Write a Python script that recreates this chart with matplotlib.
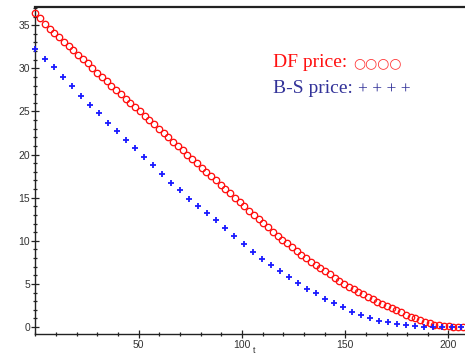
import matplotlib
matplotlib.use("Agg")
import matplotlib.pyplot as plt
from matplotlib.ticker import MultipleLocator

# DF price (red circles)
df_t = [0.0, 2.3, 4.6, 6.9, 9.2, 11.5, 13.8, 16.1, 18.4, 20.7,
        23.0, 25.3, 27.6, 29.9, 32.2, 34.5, 36.8, 39.1, 41.4, 43.7,
        46.0, 48.3, 50.6, 52.9, 55.2, 57.5, 59.8, 62.1, 64.4, 66.7,
        69.0, 71.3, 73.6, 75.9, 78.2, 80.5, 82.8, 85.1, 87.4, 89.7,
        92.0, 94.3, 96.6, 98.9, 101.2, 103.5, 105.8, 108.1, 110.4, 112.7,
        115.0, 117.3, 119.6, 121.9, 124.2, 126.5, 128.8, 131.1, 133.4, 135.7,
        138.0, 140.3, 142.6, 144.9, 147.2, 149.5, 151.8, 154.1, 156.4, 158.7,
        161.0, 163.3, 165.6, 167.9, 170.2, 172.5, 174.8, 177.1, 179.4, 181.7,
        184.0, 186.3, 188.6, 190.9, 193.2, 195.5, 197.8, 200.1, 202.4, 204.7,
        207.0]
df_price = [36.4, 35.8, 35.2, 34.6, 34.1, 33.6, 33.1, 32.6, 32.1, 31.6,
            31.1, 30.6, 30.0, 29.5, 29.0, 28.5, 28.0, 27.5, 27.0, 26.5,
            26.0, 25.5, 25.0, 24.5, 24.0, 23.5, 23.0, 22.5, 22.0, 21.5,
            21.0, 20.5, 20.0, 19.5, 19.0, 18.5, 18.0, 17.5, 17.0, 16.5,
            16.0, 15.5, 15.0, 14.5, 14.0, 13.5, 13.0, 12.5, 12.05, 11.55,
            11.05, 10.6, 10.15, 9.7, 9.25, 8.8, 8.4, 8.0, 7.6, 7.2,
            6.8, 6.45, 6.1, 5.75, 5.4, 5.05, 4.7, 4.4, 4.1, 3.8,
            3.5, 3.25, 2.95, 2.7, 2.45, 2.2, 1.95, 1.7, 1.45, 1.2,
            1.0, 0.8, 0.6, 0.45, 0.3, 0.2, 0.12, 0.07, 0.04, 0.02,
            0.01]

# B-S price (blue pluses)
bs_t = [0.0, 4.38, 8.76, 13.14, 17.52, 21.9, 26.28, 30.66, 35.04, 39.42,
        43.8, 48.18, 52.56, 56.94, 61.32, 65.7, 70.08, 74.46, 78.84, 83.22,
        87.6, 91.98, 96.36, 100.74, 105.12, 109.5, 113.88, 118.26, 122.64, 127.02,
        131.4, 135.78, 140.16, 144.54, 148.92, 153.3, 157.68, 162.06, 166.44, 170.82,
        175.2, 179.58, 183.96, 188.34, 192.72, 197.1, 201.48, 205.86]
bs_price = [32.2, 31.1, 30.1, 29.0, 27.95, 26.8, 25.8, 24.85, 23.7, 22.7,
            21.65, 20.8, 19.75, 18.75, 17.7, 16.75, 15.9, 14.9, 14.05, 13.2,
            12.4, 11.5, 10.6, 9.6, 8.75, 7.95, 7.25, 6.5, 5.85, 5.15,
            4.45, 3.9, 3.25, 2.75, 2.35, 1.8, 1.4, 1.0, 0.7, 0.55,
            0.35, 0.23, 0.12, 0.05, 0.02, 0.0, 0.0, 0.0]

x_ticks = [50, 100, 150, 200]
y_ticks = [0, 5, 10, 15, 20, 25, 30, 35]

fig = plt.figure(figsize=(4.65, 3.56), dpi=100)
ax = fig.add_axes([0.0763, 0.0618, 0.9237, 0.9182])

ax.plot(df_t, df_price, linestyle='none', marker='o', markersize=4.6,
        markerfacecolor='none', markeredgecolor='#ff1010', markeredgewidth=0.95,
        clip_on=False, zorder=3)
ax.plot(bs_t, bs_price, linestyle='none', marker='+', markersize=5.0,
        color='#1a1aff', markeredgewidth=1.3, clip_on=False, zorder=3)

ax.set_xlim(0, 208)
ax.set_ylim(-0.8, 37.1)
ax.set_xticks(x_ticks)
ax.set_yticks(y_ticks)
ax.xaxis.set_minor_locator(MultipleLocator(10))
ax.yaxis.set_minor_locator(MultipleLocator(1))

for s in ['left', 'bottom', 'top']:
    ax.spines[s].set_color('#222222')
    ax.spines[s].set_linewidth(1.0)
ax.spines['top'].set_linewidth(1.6)
ax.spines['right'].set_visible(False)

ax.tick_params(axis='both', which='major', direction='inout', length=6,
               width=0.9, color='#222222', labelsize=7.5, labelcolor='#333333', pad=1)
ax.tick_params(axis='both', which='minor', direction='inout', length=3.5,
               width=0.9, color='#222222')
for lab in ax.get_xticklabels() + ax.get_yticklabels():
    lab.set_family('Liberation Sans')

fig.text(0.547, 0.003, 't', fontsize=6.5, family='Liberation Sans',
         color='#333333', ha='center', va='bottom')

fig.text(0.587, 0.812, 'DF price: ', color='#ff1010', fontsize=14,
         family='Liberation Serif', ha='left', va='baseline')
fig.text(0.759, 0.812, '\u25cb\u25cb\u25cb\u25cb', color='#ff3333', fontsize=10,
         family='DejaVu Sans', ha='left', va='baseline')
fig.text(0.587, 0.740, 'B-S price:', color='#333399', fontsize=14,
         family='Liberation Serif', ha='left', va='baseline')
fig.text(0.770, 0.740, '+ + + +', color='#333399', fontsize=12.5,
         family='Liberation Serif', ha='left', va='baseline')

fig.savefig('out.png', dpi=100)
